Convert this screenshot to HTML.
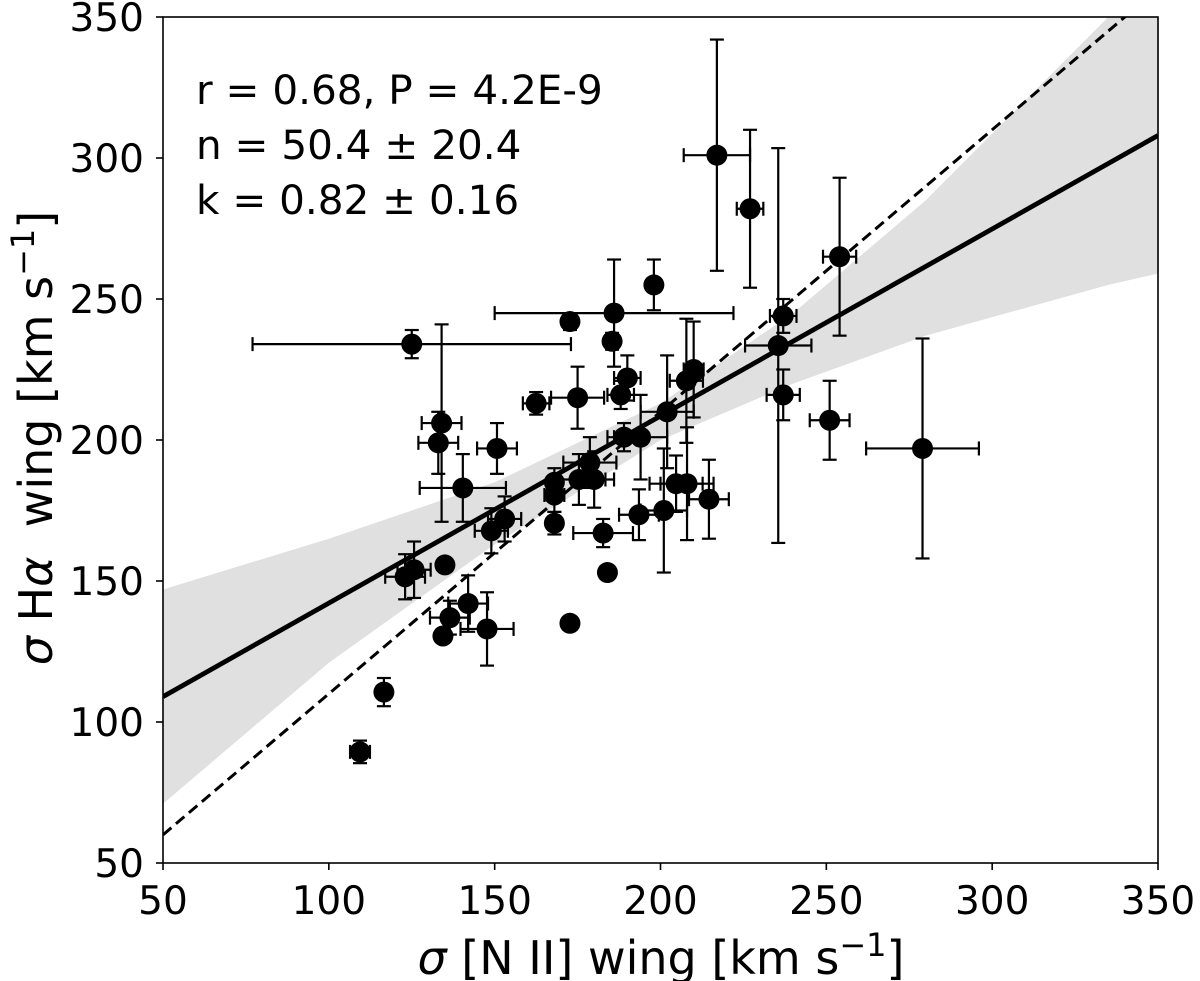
<!DOCTYPE html>
<html><head><meta charset="utf-8"><style>
body{margin:0;background:#fff}
svg{display:block}
text{font-family:"DejaVu Sans","Liberation Sans",sans-serif;fill:#000}
</style></head><body>
<svg id="chart" width="1200" height="981" viewBox="0 0 1200 981" xmlns="http://www.w3.org/2000/svg">
<defs><clipPath id="clip"><rect x="163" y="17" width="995" height="846"/></clipPath></defs>
<g id="band" clip-path="url(#clip)"></g>
<g id="lines" clip-path="url(#clip)"></g>
<g id="points" clip-path="url(#clip)"></g>
<rect x="163" y="17" width="995" height="846" fill="none" stroke="#000" stroke-width="1.6"/>
<g id="axes"></g>
<g font-size="40.5">
<text x="196" y="104">r = 0.68, P = 4.2E-9</text>
<text x="196" y="159">n = 50.4 ± 20.4</text>
<text x="196" y="214">k = 0.82 ± 0.16</text>
</g>
<text x="661" y="974" text-anchor="middle" font-size="46"><tspan font-style="italic">σ</tspan> [N II] wing [km s<tspan dy="-18" font-size="32">−1</tspan><tspan dy="18">]</tspan></text>
<text transform="translate(52,438) rotate(-90)" text-anchor="middle" font-size="46" xml:space="preserve"><tspan font-style="italic">σ</tspan> H<tspan font-style="italic">α</tspan>  wing [km s<tspan dy="-18" font-size="32">−1</tspan><tspan dy="18">]</tspan></text>
</svg>
<script>
const xTicks=[50,100,150,200,250,300,350];
const yTicks=[50,100,150,200,250,300,350];
const bandX=[50,100,150,200,240,280,335,350];
const bandUpper=[147,165,185,213,245,285,350,362];
const bandLower=[71,121,163,200,220,237,255,259];
const fitX=[50,350];
const fitY=[109,308];
const oneToOneX=[50,350];
const oneToOneY=[60,360];
const px=[217,227,254,198,186,172.7,125,185.4,237,235.5,237,251,279,134,133,162.5,175,188,190,150.7,140.4,202,207.8,210,189,194,178.7,175.4,180,168,168,168,149,153,182.7,204.7,208,201,193.5,214.6,184,172.7,123,125.7,135,136.5,142,134.4,147.7,116.6,109.4];
const py=[301,282,265,255,245,242,234,235,244,233.5,216,207,197,206,199,213,215,216,222,197,183,210,221,225,201,201,192,186,186,185,180.5,170.5,167.8,172,167,184.5,184.5,175,173.5,179,153,135,151.5,154,155.7,137,142,130.5,133,110.6,89.4];
const pxErr=[10,4,5,2,36,2,48,2,4,10,5,6,17,6,6,4,8,4,4,6,13,8,5,3,5,8,8,8,6,2,3,2,5,5,9,8,8,7,6,6,2,2,6,5,2,6,6,2,8,2,3];
const pyErr=[41,28,28,9,19,3,5,3,6,70,9,14,39,35,11,4,11,5,8,9,12,20,22,17,5,15,9,9,10,5,6,4,8,8,5,10,20,22,9,14,2,2,8,10,2,6,10,2,13,5,4];
const X=v=>163+(v-50)*995/300;
const Y=v=>863-(v-50)*846/300;
const NS="http://www.w3.org/2000/svg";
function mk(parent,tag,attrs){const e=document.createElementNS(NS,tag);for(const k in attrs)e.setAttribute(k,attrs[k]);parent.appendChild(e);return e;}
const band=document.getElementById('band');
let d="M"+bandX.map((x,i)=>X(x)+","+Y(bandUpper[i])).join("L");
for(let i=bandX.length-1;i>=0;i--)d+="L"+X(bandX[i])+","+Y(bandLower[i]);
const bp=mk(band,'path',{d:d+"Z",fill:'#e0e0e0'});


const lines=document.getElementById('lines');
const f=mk(lines,'line',{x1:X(fitX[0]),y1:Y(fitY[0]),x2:X(fitX[1]),y2:Y(fitY[1]),stroke:'#000','stroke-width':4.8});


const o=mk(lines,'line',{x1:X(oneToOneX[0]),y1:Y(oneToOneY[0]),x2:X(oneToOneX[1]),y2:Y(oneToOneY[1]),stroke:'#000','stroke-width':3,'stroke-dasharray':'11,6'});


const pts=document.getElementById('points');
for(let i=0;i<px.length;i++){
  const g=mk(pts,'g',{stroke:'#000','stroke-width':2.2});
  
  
  const cx=X(px[i]),cy=Y(py[i]);
  const x0=X(px[i]-pxErr[i]),x1=X(px[i]+pxErr[i]);
  const y0=Y(py[i]-pyErr[i]),y1=Y(py[i]+pyErr[i]);
  mk(g,'line',{x1:x0,y1:cy,x2:x1,y2:cy});
  mk(g,'line',{x1:x0,y1:cy-7,x2:x0,y2:cy+7});
  mk(g,'line',{x1:x1,y1:cy-7,x2:x1,y2:cy+7});
  mk(g,'line',{x1:cx,y1:y0,x2:cx,y2:y1});
  mk(g,'line',{x1:cx-7,y1:y0,x2:cx+7,y2:y0});
  mk(g,'line',{x1:cx-7,y1:y1,x2:cx+7,y2:y1});
  mk(g,'circle',{cx:cx,cy:cy,r:10.5,fill:'#000',stroke:'none'});
}
const ax=document.getElementById('axes');
xTicks.forEach(t=>{
  const l=mk(ax,'line',{x1:X(t),y1:863,x2:X(t),y2:870,stroke:'#000','stroke-width':1.6});
  
  
  const tx=mk(ax,'text',{x:X(t),y:914,'text-anchor':'middle','font-size':39});
  tx.textContent=t;
  
  
});
yTicks.forEach(t=>{
  const l=mk(ax,'line',{x1:156,y1:Y(t),x2:163,y2:Y(t),stroke:'#000','stroke-width':1.6});
  
  
  const tx=mk(ax,'text',{x:144,y:Y(t)+14,'text-anchor':'end','font-size':39});
  tx.textContent=t;
  
  
});
</script>
</body></html>
